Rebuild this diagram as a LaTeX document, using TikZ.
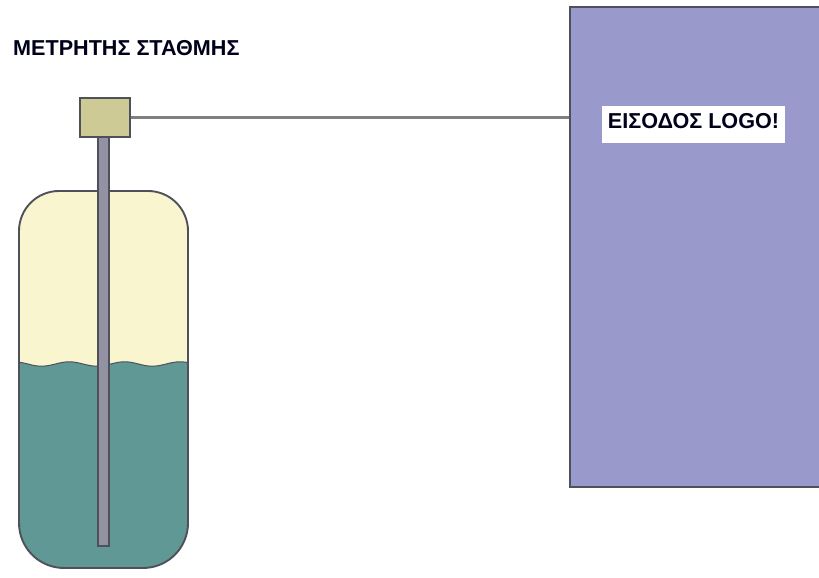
\documentclass[tikz,border=0pt]{standalone}
\usepackage{fontspec}
\setmainfont{Liberation Sans}
\usetikzlibrary{positioning}

\definecolor{tankair}{RGB}{248,245,207}
\definecolor{tankfluid}{RGB}{96,152,150}
\definecolor{rodgray}{RGB}{146,146,162}
\definecolor{sensorkhaki}{RGB}{205,202,150}
\definecolor{logoblue}{RGB}{153,153,204}
\definecolor{edgegray}{RGB}{80,80,90}

\tikzset{
  label text/.style={font=\fontsize{21.6}{24}\selectfont\bfseries,text=black!90!blue,inner sep=0pt},
  sensor box/.style={draw=edgegray,fill=sensorkhaki,line width=1.8pt,minimum width=50,minimum height=39,inner sep=0pt},
  plc box/.style={draw=edgegray,fill=logoblue,line width=2pt,minimum width=252,minimum height=480,inner sep=0pt,anchor=south west},
  wire/.style={draw=gray,line width=2.5pt}
}

\begin{document}
\begin{tikzpicture}[x=1pt,y=1pt]
  \useasboundingbox (0,0) rectangle (819,578);

  % tank body: air above, fluid below a wavy surface
  \def\tankpath{(19,55) -- (19,347) arc[start angle=180,end angle=90,radius=40]
    -- (148,387) arc[start angle=90,end angle=0,radius=40]
    -- (188,55) arc[start angle=0,end angle=-90,radius=45]
    -- (64,10) arc[start angle=270,end angle=180,radius=45] -- cycle}
  \begin{scope}
    \clip \tankpath;
    \fill[tankair] (10,0) rectangle (200,400);
    \fill[tankfluid] (10,0) -- (10,214)
      -- plot[domain=10:200,samples=80,smooth] (\x,{214+2.2*sin(\x*6.5)})
      -- (200,0) -- cycle;
    \draw[edgegray,line width=1pt]
      plot[domain=10:200,samples=80,smooth] (\x,{214+2.2*sin(\x*6.5)});
  \end{scope}
  \draw[edgegray,line width=1.9pt] \tankpath;

  % probe rod
  \draw[edgegray,fill=rodgray,line width=1.7pt] (98,32) rectangle (109,442);

  \node[sensor box] (sensor) at (105,460.5) {};
  \node[plc box] (logo) at (569,90) {};
  \node[label text,fill=white,minimum width=183,minimum height=37,text height=15.5pt,text depth=8pt] (input) at (693.5,453.5) {ΕΙΣΟΔΟΣ LOGO!};
  \node[label text,anchor=west] (title) at (13,530) {ΜΕΤΡΗΤΗΣ ΣΤΑΘΜΗΣ};

  \draw[wire] (sensor.east) -- (sensor.east -| logo.west);
\end{tikzpicture}
\end{document}
